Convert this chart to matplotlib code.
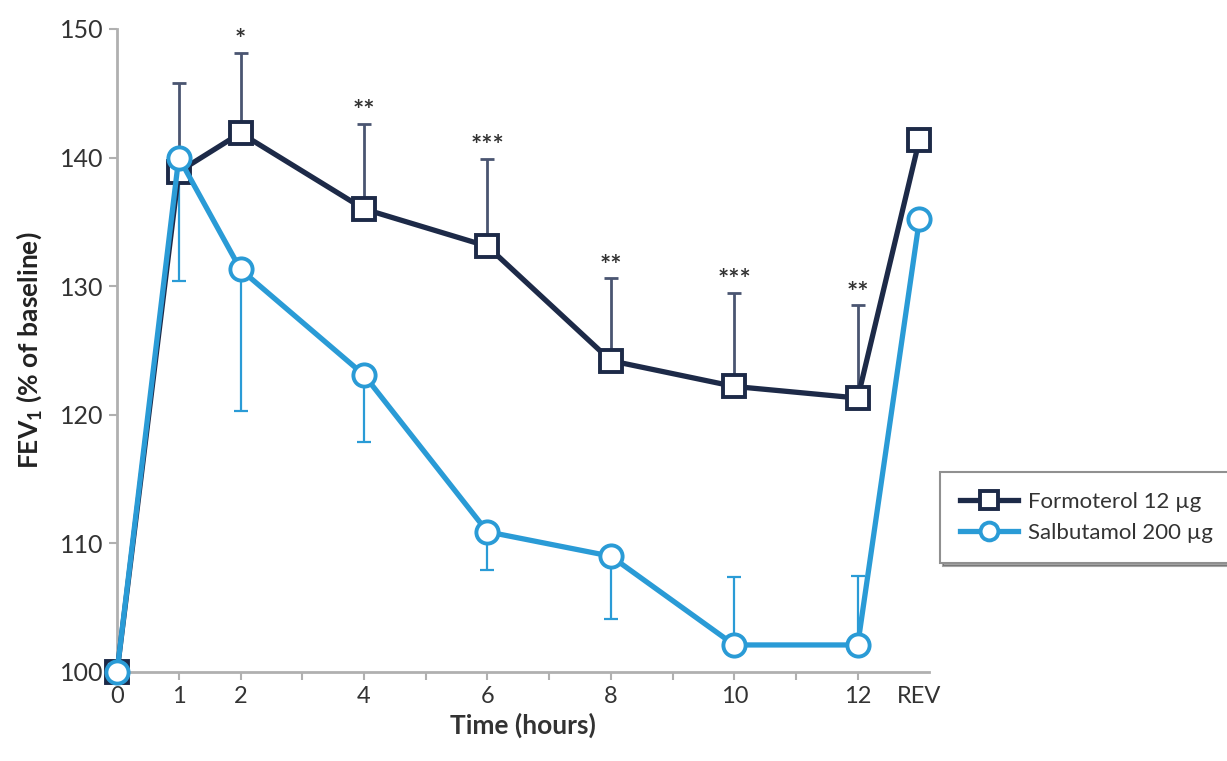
import numpy as np
import matplotlib.pyplot as plt

# time points (REV plotted one hour after the 12 h point)
hours = [0, 1, 2, 4, 6, 8, 10, 12, 13]
xtick_pos = list(range(0, 14))
xtick_labels = ['0', '1', '2', '', '4', '', '6', '', '8', '', '10', '', '12', 'REV']

formoterol = [100, 138.9, 141.9, 136.0, 133.1, 124.2, 122.2, 121.3, 141.4]
formoterol_up = [0, 6.9, 6.2, 6.6, 6.8, 6.4, 7.3, 7.2, 0]

salbutamol = [100, 140.0, 131.3, 123.1, 110.9, 109.0, 102.1, 102.1, 135.2]
salbutamol_down = [0, 9.6, 11.0, 5.2, 3.0, 4.9, 0, 0, 0]
salbutamol_up = [0, 0, 0, 0, 0, 0, 5.3, 5.4, 0]

stars = ['', '', '*', '**', '***', '**', '***', '**', '']

navy = '#1d2a48'
navy_err = '#4a5571'
blue = '#2a9bd6'
grey = '#b0b0b0'

plt.rcParams['font.family'] = ['Lato', 'DejaVu Sans']
plt.rcParams['mathtext.fontset'] = 'custom'
plt.rcParams['mathtext.bf'] = 'Lato:bold'
plt.rcParams['mathtext.rm'] = 'Lato'

fig = plt.figure(figsize=(12.27, 7.61), dpi=100)
ax = fig.add_axes([0.0954, 0.117, 0.662, 0.845])

n = len(hours)
ax.errorbar(hours, formoterol, yerr=[np.zeros(n), formoterol_up], fmt='none',
            ecolor=navy_err, elinewidth=2, capsize=5, capthick=2, zorder=2)
ax.errorbar(hours, salbutamol, yerr=[salbutamol_down, salbutamol_up], fmt='none',
            ecolor=blue, elinewidth=1.6, capsize=5, capthick=1.6, zorder=2)

ax.plot(hours, formoterol, color=navy, lw=3.8, marker='s', ms=16, mfc='white',
        mec=navy, mew=2.8, label='Formoterol 12 µg', zorder=3, clip_on=False)
ax.plot(hours, salbutamol, color=blue, lw=3.8, marker='o', ms=16, mfc='white',
        mec=blue, mew=2.8, label='Salbutamol 200 µg', zorder=4, clip_on=False)

for x, y, u, s in zip(hours, formoterol, formoterol_up, stars):
    if s:
        ax.text(x, y + u + 1.0, s, ha='center', va='center', fontsize=19,
                fontweight='bold', color='#333333')

ax.set_xlim(0, 13.16)
ax.set_ylim(100, 150)
ax.set_xticks(xtick_pos)
ax.set_xticklabels(xtick_labels, fontsize=17, color='#333333')
ax.set_yticks([100, 110, 120, 130, 140, 150])
ax.tick_params(axis='y', labelsize=18, labelcolor='#333333', color=grey, length=6, width=1.5)
ax.tick_params(axis='x', color=grey, length=6, width=1.5, pad=4)
ax.get_xticklines()[-2].set_visible(False)

for side in ['top', 'right']:
    ax.spines[side].set_visible(False)
for side in ['left', 'bottom']:
    ax.spines[side].set_color(grey)
    ax.spines[side].set_linewidth(2)

ax.set_xlabel('Time (hours)', fontsize=19, fontweight='bold', color='#333333', labelpad=4)
ax.set_ylabel(r'FEV$_\mathbf{1}$ (% of baseline)', fontsize=19, fontweight='bold',
              color='#222222', labelpad=12)

leg = ax.legend(loc='upper left', bbox_to_anchor=(0.766, 0.380), bbox_transform=fig.transFigure,
                fontsize=16, frameon=True, fancybox=False, shadow=True, handlelength=2.6,
                borderpad=0.9, labelspacing=0.5, handletextpad=0.45, borderaxespad=0,
                markerscale=0.8)
leg.get_frame().set_edgecolor('#909090')
leg.get_frame().set_linewidth(1.5)
for t in leg.get_texts():
    t.set_color('#333333')

fig.savefig('out.png', dpi=100)
